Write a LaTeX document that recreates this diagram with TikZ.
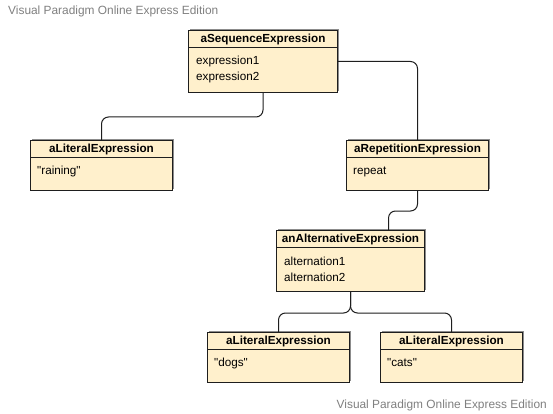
\documentclass[tikz,border=0pt]{standalone}
\usepackage{fontspec}
\setmainfont{Liberation Sans}
\usetikzlibrary{positioning,calc,shadows}
\definecolor{objfill}{HTML}{FFF0CC}
\definecolor{objline}{HTML}{1E1E1E}
\definecolor{shade}{HTML}{8C8C8C}
\definecolor{wmgray}{HTML}{808080}
\tikzset{
  objbox/.style={rectangle,draw=objline,fill=objfill,line width=1pt,inner sep=0pt,
    anchor=north west,general shadow={shadow xshift=1.5pt,shadow yshift=1.5pt,fill=shade}},
  objhead/.style={rectangle,draw=objline,fill=objfill,line width=1pt,inner sep=0pt,
    minimum height=17pt,anchor=north,font=\fontsize{11.7}{14}\selectfont\bfseries},
  objtext/.style={inner sep=0pt,anchor=base west,align=left,
    font=\fontsize{11.7}{16}\selectfont},
  link/.style={draw=objline,line width=1pt,rounded corners=7pt},
  wmark/.style={text=wmgray,inner sep=0pt,font=\fontsize{11.9}{14}\selectfont},
}

\begin{document}
\begin{tikzpicture}[x=1pt,y=-1pt]
  \fill[white] (0,0) rectangle (553,414);
  \useasboundingbox (0,0) rectangle (553,414);
  % watermarks
  \node[wmark,anchor=base west] (wm1) at (8,15) {Visual Paradigm Online Express Edition};
  \node[wmark,anchor=base east] (wm2) at (547,408) {Visual Paradigm Online Express Edition};
  % objects
  \node[objbox,minimum width=149pt,minimum height=62pt] (seq) at (188,30) {};
  \node[objhead,minimum width=149pt] (seq-t) at (seq.north) {aSequenceExpression};
  \node[objtext] (seq-b) at ($(seq-t.south west)+(8,33)$) {expression1\\expression2};
  \node[objbox,minimum width=142pt,minimum height=50pt] (lit1) at (30,140) {};
  \node[objhead,minimum width=142pt] (lit1-t) at (lit1.north) {aLiteralExpression};
  \node[objtext] (lit1-b) at ($(lit1-t.south west)+(7,16)$) {\textquotedbl raining\textquotedbl};
  \node[objbox,minimum width=142pt,minimum height=50pt] (rep) at (346,140) {};
  \node[objhead,minimum width=142pt] (rep-t) at (rep.north) {aRepetitionExpression};
  \node[objtext] (rep-b) at ($(rep-t.south west)+(7,16)$) {repeat};
  \node[objbox,minimum width=148pt,minimum height=61pt] (alt) at (276,230) {};
  \node[objhead,minimum width=148pt] (alt-t) at (alt.north) {anAlternativeExpression};
  \node[objtext] (alt-b) at ($(alt-t.south west)+(8,33)$) {alternation1\\alternation2};
  \node[objbox,minimum width=142pt,minimum height=50pt] (lit2) at (207,332) {};
  \node[objhead,minimum width=142pt] (lit2-t) at (lit2.north) {aLiteralExpression};
  \node[objtext] (lit2-b) at ($(lit2-t.south west)+(7,16)$) {\textquotedbl dogs\textquotedbl};
  \node[objbox,minimum width=142pt,minimum height=50pt] (lit3) at (380,332) {};
  \node[objhead,minimum width=142pt] (lit3-t) at (lit3.north) {aLiteralExpression};
  \node[objtext] (lit3-b) at ($(lit3-t.south west)+(7,16)$) {\textquotedbl cats\textquotedbl};
  % links
  \draw[link] (seq.south) -- ++(0,24) -| (lit1-t.north);
  \draw[link] (seq.east) -| (rep-t.north);
  \draw[link] (rep.south) -- ++(0,20) -| ($(alt-t.north)+(38,0)$);
  \draw[link] (alt.south) -- ++(0,21) -| (lit2-t.north);
  \draw[link] (alt.south) -- ++(0,21) -| (lit3-t.north);
\end{tikzpicture}
\end{document}
